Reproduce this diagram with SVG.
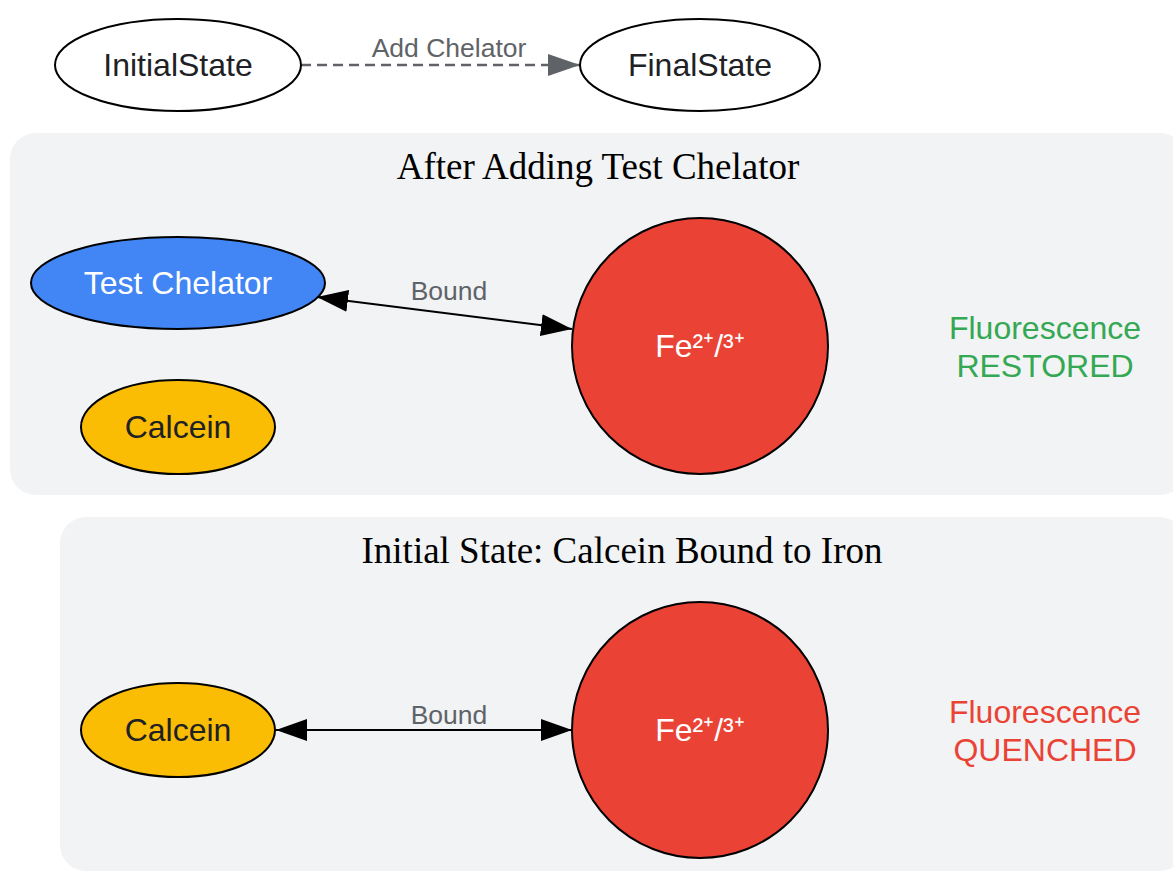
<svg xmlns="http://www.w3.org/2000/svg" width="1173" height="873" viewBox="0 0 1173 873">
<style>
.cl{fill:#f1f3f4;stroke:none}
.ct{font-family:"Liberation Serif","Times New Roman",serif;font-size:37px;fill:#000;text-anchor:middle}
.n{stroke:#000;stroke-width:2}
.nt{font-family:"Liberation Sans",Arial,sans-serif;font-size:32px;text-anchor:middle;dominant-baseline:central}
.el{font-family:"Liberation Sans",Arial,sans-serif;font-size:26.5px;fill:#5f6368;text-anchor:middle}
.e{stroke:#000;stroke-width:2;fill:none}
</style>
<defs>
<marker id="ahg" viewBox="0 0 10 10" refX="10" refY="5" markerWidth="32" markerHeight="22" markerUnits="userSpaceOnUse" orient="auto" preserveAspectRatio="none">
<path d="M0,0 L10,5 L0,10 Z" fill="#5f6368"/>
</marker>
<marker id="ahb" viewBox="0 0 10 10" refX="10" refY="5" markerWidth="31" markerHeight="22" markerUnits="userSpaceOnUse" orient="auto-start-reverse" preserveAspectRatio="none">
<path d="M0,0 L10,5 L0,10 Z" fill="#000"/>
</marker>
</defs>
<rect width="1173" height="873" fill="#fff"/>
<g id="cluster_after">
<rect class="cl" x="10" y="133" width="1176" height="362" rx="26"/>
<text class="ct" x="598" y="179">After Adding Test Chelator</text>
</g>
<g id="cluster_initial">
<rect class="cl" x="60" y="517" width="1125" height="354" rx="26"/>
<text class="ct" x="622" y="563">Initial State: Calcein Bound to Iron</text>
</g>
<g id="connectors">
<line x1="301" y1="65" x2="580" y2="65" stroke="#5f6368" stroke-width="2.5" stroke-dasharray="10,6" marker-end="url(#ahg)"/>
<text class="el" x="449" y="57">Add Chelator</text>
<line class="e" x1="317" y1="297" x2="572" y2="329" marker-start="url(#ahb)" marker-end="url(#ahb)"/>
<text class="el" x="449" y="300">Bound</text>
<line class="e" x1="276" y1="730" x2="572" y2="730" marker-start="url(#ahb)" marker-end="url(#ahb)"/>
<text class="el" x="449" y="724">Bound</text>
</g>
<g id="InitialState">
<ellipse class="n" cx="178" cy="65" rx="123" ry="46" fill="#fff"/>
<text class="nt" x="178" y="65" fill="#202124">InitialState</text>
</g>
<g id="FinalState">
<ellipse class="n" cx="700" cy="65" rx="120" ry="46" fill="#fff"/>
<text class="nt" x="700" y="65" fill="#202124">FinalState</text>
</g>
<g id="TestChelator">
<ellipse class="n" cx="178" cy="283" rx="147" ry="46" fill="#4285f4"/>
<text class="nt" x="178" y="283" fill="#fff">Test Chelator</text>
</g>
<g id="Calcein_after">
<ellipse class="n" cx="178" cy="427" rx="97" ry="47" fill="#fbbc04"/>
<text class="nt" x="178" y="427" fill="#202124">Calcein</text>
</g>
<g id="Fe_after">
<circle class="n" cx="700" cy="346" r="128" fill="#ea4335"/>
<text class="nt" x="700" y="346" fill="#fff">Fe²⁺/³⁺</text>
</g>
<g id="Fluor_restored">
<text class="nt" x="1045" y="328" fill="#34a853">Fluorescence</text>
<text class="nt" x="1045" y="366" fill="#34a853">RESTORED</text>
</g>
<g id="Calcein_initial">
<ellipse class="n" cx="178" cy="730" rx="97" ry="47" fill="#fbbc04"/>
<text class="nt" x="178" y="730" fill="#202124">Calcein</text>
</g>
<g id="Fe_initial">
<circle class="n" cx="700" cy="730" r="128" fill="#ea4335"/>
<text class="nt" x="700" y="730" fill="#fff">Fe²⁺/³⁺</text>
</g>
<g id="Fluor_quenched">
<text class="nt" x="1045" y="712" fill="#ea4335">Fluorescence</text>
<text class="nt" x="1045" y="750" fill="#ea4335">QUENCHED</text>
</g>
</svg>
